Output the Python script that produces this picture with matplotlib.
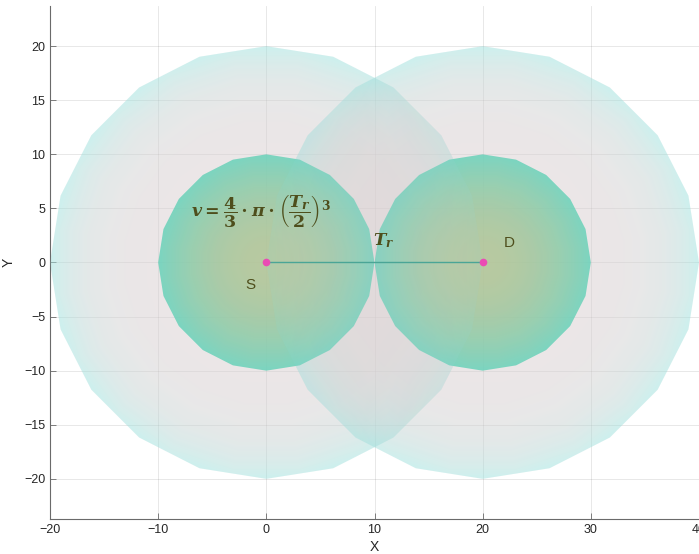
import matplotlib
matplotlib.use("Agg")
import matplotlib.pyplot as plt
import numpy as np
from matplotlib.patches import Polygon

# sphere centres (S and D) and radii seen from above
centre_x = [0.0, 20.0]
centre_y = [0.0, 0.0]
big_radius = 20.0
small_radius = 10.0
n_facets = 20

point_labels = ["S", "D"]
label_x = [-1.5, 22.5]
label_y = [-2.1, 1.8]

x_ticks = [-20, -10, 0, 10, 20, 30, 40]
y_ticks = [-20, -15, -10, -5, 0, 5, 10, 15, 20]

plt.rcParams["font.family"] = ["Liberation Sans", "DejaVu Sans"]
plt.rcParams["mathtext.fontset"] = "custom"
plt.rcParams["mathtext.it"] = "DejaVu Serif:italic:bold"
plt.rcParams["mathtext.rm"] = "DejaVu Serif:bold"
plt.rcParams["mathtext.bf"] = "DejaVu Serif:bold"

TEXT_COLOR = "#4e4e1c"
BIG_EDGE, BIG_CENTRE = (161, 225, 221), (218, 208, 209)
SMALL_EDGE, SMALL_CENTRE = (85, 210, 182), (168, 194, 138)


def facet_polygon(cx, cy, r):
    ang = np.arange(n_facets) * 2 * np.pi / n_facets
    return np.column_stack([cx + r * np.cos(ang), cy + r * np.sin(ang)])


def draw_sphere(ax, cx, cy, r, edge_rgb, centre_rgb, alpha, power, zorder):
    n = 500
    gx = np.linspace(cx - r, cx + r, n)
    gy = np.linspace(cy - r, cy + r, n)
    xx, yy = np.meshgrid(gx, gy)
    dx, dy = xx - cx, yy - cy
    rho = np.hypot(dx, dy)
    theta = np.arctan2(dy, dx)
    step = 2 * np.pi / n_facets
    # distance to nearest facet normal -> faceted rings like a low-poly sphere
    off = (theta - step / 2) % step - step / 2
    s = rho * np.cos(off) / np.cos(step / 2) / r
    s = np.clip(s, 0, 1)
    t = 1 - s ** power
    edge = np.array(edge_rgb) / 255.0
    cen = np.array(centre_rgb) / 255.0
    rgb = edge[None, None, :] * (1 - t[..., None]) + cen[None, None, :] * t[..., None]
    rgba = np.dstack([rgb, np.full(t.shape, alpha)])
    im = ax.imshow(rgba, extent=[cx - r, cx + r, cy - r, cy + r], origin="lower",
                   interpolation="bilinear", zorder=zorder)
    patch = Polygon(facet_polygon(cx, cy, r), closed=True, transform=ax.transData,
                    facecolor="none", edgecolor="none")
    im.set_clip_path(patch)


fig = plt.figure(figsize=(6.99, 5.54), dpi=100)
ax = fig.add_axes([50 / 699, 34 / 554, 649 / 699, 515 / 554])

# lower hemisphere of the large spheres, then the small spheres, then the upper hemisphere
for cx, cy in zip(centre_x, centre_y):
    draw_sphere(ax, cx, cy, big_radius, BIG_EDGE, BIG_CENTRE, 0.42, 7, 1)
for cx, cy in zip(centre_x, centre_y):
    draw_sphere(ax, cx, cy, small_radius, SMALL_EDGE, SMALL_CENTRE, 0.85, 2, 2)
for cx, cy in zip(centre_x, centre_y):
    draw_sphere(ax, cx, cy, big_radius, BIG_EDGE, BIG_CENTRE, 0.15, 7, 3)

ax.plot(centre_x, centre_y, color="#4aa596", lw=1.0, zorder=4)
ax.plot(centre_x, centre_y, "o", color="#ea4bb4", ms=5.5, mec="none", zorder=5)

for name, lx, ly in zip(point_labels, label_x, label_y):
    ax.text(lx, ly, name, fontsize=11, color=TEXT_COLOR, ha="center", va="center", zorder=6)

ax.text(9.9, 2.0, r"$T_r$", fontsize=12, color=TEXT_COLOR, ha="left", va="center", zorder=6)
ax.text(-7.0, 4.7, r"$v = \dfrac{4}{3} \cdot \pi \cdot \left(\dfrac{T_r}{2}\right)^3$",
        fontsize=12.5, color=TEXT_COLOR, ha="left", va="center", zorder=6)

ax.set_xlim(-20, 40)
ax.set_ylim(-23.75, 23.75)
ax.set_xticks(x_ticks)
ax.set_yticks(y_ticks)
ax.grid(True, color="#262626", alpha=0.12, lw=0.6)
ax.set_axisbelow(True)
for side in ["top", "right"]:
    ax.spines[side].set_visible(False)
for side in ["left", "bottom"]:
    ax.spines[side].set_color("#6a6a6a")
    ax.spines[side].set_linewidth(0.8)
ax.tick_params(direction="in", length=4, width=0.6, colors="#6a6a6a",
               labelcolor="#262626", labelsize=9)
ax.set_xlabel("X", fontsize=10, color="#262626", labelpad=3)
ax.set_ylabel("Y", fontsize=10, color="#262626", labelpad=6)

fig.savefig("out.png", dpi=100)
